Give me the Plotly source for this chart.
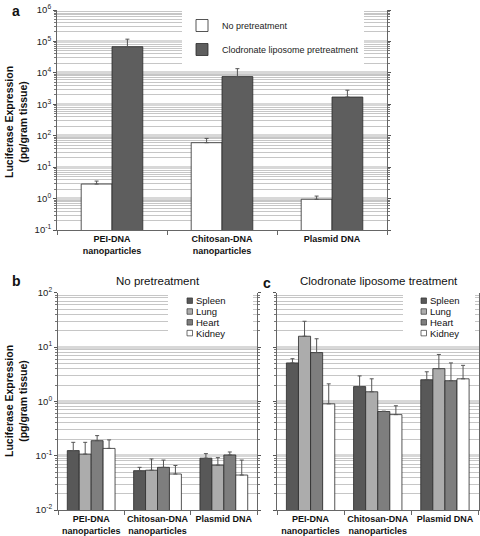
import plotly.graph_objects as go

# ---------------- data ----------------
cats_a = ["PEI-DNA<br>nanoparticles", "Chitosan-DNA<br>nanoparticles", "Plasmid DNA"]
no_pre = [2.9, 60, 0.95]
no_pre_err = [0.7, 22, 0.25]
clod = [68000, 7600, 1700]
clod_err = [50000, 6000, 1100]

cats_bc = ["PEI-DNA<br>nanoparticles", "Chitosan-DNA<br>nanoparticles", "Plasmid DNA"]
organs = ["Spleen", "Lung", "Heart", "Kidney"]
b_vals = {
    "Spleen": [0.124, 0.053, 0.090],
    "Lung":   [0.107, 0.054, 0.067],
    "Heart":  [0.189, 0.061, 0.103],
    "Kidney": [0.136, 0.046, 0.044],
}
b_err = {
    "Spleen": [0.052, 0.008, 0.019],
    "Lung":   [0.069, 0.033, 0.025],
    "Heart":  [0.045, 0.022, 0.014],
    "Kidney": [0.059, 0.020, 0.039],
}
c_vals = {
    "Spleen": [5.1, 1.87, 2.5],
    "Lung":   [15.8, 1.5, 4.0],
    "Heart":  [7.9, 0.65, 2.4],
    "Kidney": [0.9, 0.57, 2.6],
}
c_err = {
    "Spleen": [1.0, 1.07, 1.0],
    "Lung":   [14.0, 1.1, 3.3],
    "Heart":  [6.3, 0.01, 2.7],
    "Kidney": [1.2, 0.26, 2.0],
}

# ---------------- style ----------------
W, H = 480, 536
FONT = "Liberation Sans, Arial, sans-serif"
organ_colors = {"Spleen": "#585858", "Lung": "#acacac", "Heart": "#7e7e7e", "Kidney": "#ffffff"}
OUTLINE = dict(color="#2a2a2a", width=0.8)
ERRC = "#555555"

def px(x):
    return x / W

def py(y):
    return 1 - y / H

fig = go.Figure()

def err(arr):
    return dict(type="data", symmetric=False, array=arr, arrayminus=[0] * len(arr),
                color=ERRC, thickness=1, width=2)

A_W = 0.28
fig.add_trace(go.Bar(x=cats_a, y=no_pre, name="No pretreatment", marker=dict(color="#ffffff", line=OUTLINE),
                     error_y=err(no_pre_err), xaxis="x", yaxis="y", legendgroup="g1",
                     width=A_W, offset=-A_W))
fig.add_trace(go.Bar(x=cats_a, y=clod, name="Clodronate liposome pretreatment",
                     marker=dict(color="#5e5e5e", line=OUTLINE),
                     error_y=err(clod_err), xaxis="x", yaxis="y", legendgroup="g2",
                     width=A_W, offset=0))

BW = 0.18
for i, o in enumerate(organs):
    fig.add_trace(go.Bar(x=cats_bc, y=b_vals[o], name=o, marker=dict(color=organ_colors[o], line=OUTLINE),
                         error_y=err(b_err[o]), xaxis="x2", yaxis="y2", showlegend=False,
                         width=BW, offset=-2 * BW + i * BW))
for i, o in enumerate(organs):
    fig.add_trace(go.Bar(x=cats_bc, y=c_vals[o], name=o, marker=dict(color=organ_colors[o], line=OUTLINE),
                         error_y=err(c_err[o]), xaxis="x3", yaxis="y3", showlegend=False,
                         width=BW, offset=-2 * BW + i * BW))

def minor_vals(lo, hi):
    vals = []
    for d in range(lo, hi):
        for k in range(2, 10):
            vals.append(k * 10 ** d)
    return vals

def yaxis(lo, hi, domain, anchor, labels=True):
    tv = [10 ** t for t in range(lo, hi + 1)]
    d = dict(type="log", range=[lo, hi], domain=domain, anchor=anchor, automargin=False,
             tickmode="array", tickvals=tv,
             showticklabels=labels,
             ticks="outside", ticklen=3, tickcolor="#555",
             showline=True, linecolor="#666", linewidth=1, mirror="ticks",
             showgrid=True, gridcolor="#d8d8d8", gridwidth=3,
             minor=dict(tickmode="array", tickvals=minor_vals(lo, hi), ticks="outside", ticklen=2,
                        tickcolor="#777", showgrid=True, gridcolor="#c6c6c6", gridwidth=1),
             tickfont=dict(family=FONT, size=9.5, color="#222"), zeroline=False)
    if labels:
        d["ticktext"] = ["10<sup>%d</sup>" % t for t in range(lo, hi + 1)]
    return d

def xaxis(domain, anchor):
    return dict(domain=domain, anchor=anchor, type="category", showline=True, linecolor="#666",
                linewidth=1, ticks="outside", tickson="boundaries", ticklen=4, tickcolor="#666",
                automargin=False, tickangle=0,
                showgrid=False, tickfont=dict(family=FONT, size=9, color="#111", weight="bold"))

fig.update_layout(
    width=W, height=H,
    margin=dict(l=0, r=0, t=0, b=0, autoexpand=False),
    paper_bgcolor="white", plot_bgcolor="white",
    barmode="group",
    font=dict(family=FONT, color="#222"),
    xaxis=xaxis([px(57), px(387)], "y"),
    yaxis=yaxis(-1, 6, [py(230), py(10)], "x"),
    xaxis2=xaxis([px(58), px(257)], "y2"),
    yaxis2=yaxis(-2, 2, [py(510), py(292.7)], "x2"),
    xaxis3=xaxis([px(277), px(478.5)], "y3"),
    yaxis3=yaxis(-2, 2, [py(510), py(292.7)], "x3", labels=False),
    showlegend=True,
    legend=dict(x=px(182), y=py(11), xanchor="left", yanchor="top", bgcolor="white",
                font=dict(family=FONT, size=9, color="#222"), tracegroupgap=5,
                itemwidth=30, traceorder="grouped", entrywidth=165, entrywidthmode="pixels"),
)

ann = []
def text(x, y, s, size, bold=False, angle=0, xanchor="center", yanchor="middle"):
    ann.append(dict(x=px(x), y=py(y), xref="paper", yref="paper", text=s, showarrow=False,
                    textangle=angle, xanchor=xanchor, yanchor=yanchor,
                    font=dict(family=FONT, size=size, color="#111", weight="bold" if bold else "normal")))

text(16, 11, "a", 14, bold=True)
text(16, 281, "b", 14, bold=True)
text(267, 283, "c", 14, bold=True)
text(158, 281, "No pretreatment", 11.5)
text(379, 281, "Clodronate liposome treatment", 11.5)
text(16, 122, "Luciferase Expression<br>(pg/gram tissue)", 10.5, bold=True, angle=-90)
text(16, 401, "Luciferase Expression<br>(pg/gram tissue)", 10.5, bold=True, angle=-90)

shapes = []
# small legends for panels b and c
for (bx0, bx1, sq) in [(168, 253, 187), (403, 475, 421)]:
    shapes.append(dict(type="rect", xref="paper", yref="paper", x0=px(bx0), x1=px(bx1), y0=py(341), y1=py(294),
                       fillcolor="white", line=dict(width=0), layer="above"))
    for i, o in enumerate(organs):
        yc = 300.7 + i * 10.8
        shapes.append(dict(type="rect", xref="paper", yref="paper", x0=px(sq), x1=px(sq + 5.5),
                           y0=py(yc + 2.75), y1=py(yc - 2.75), fillcolor=organ_colors[o],
                           line=dict(color="#333", width=0.7), layer="above"))
        text(sq + 6.5, yc, o, 9.5, xanchor="left")

fig.update_layout(annotations=ann, shapes=shapes)
fig.write_html("out.html", config={"displayModeBar": False},
               post_script="document.body.style.margin='0';document.body.style.overflow='hidden';")
